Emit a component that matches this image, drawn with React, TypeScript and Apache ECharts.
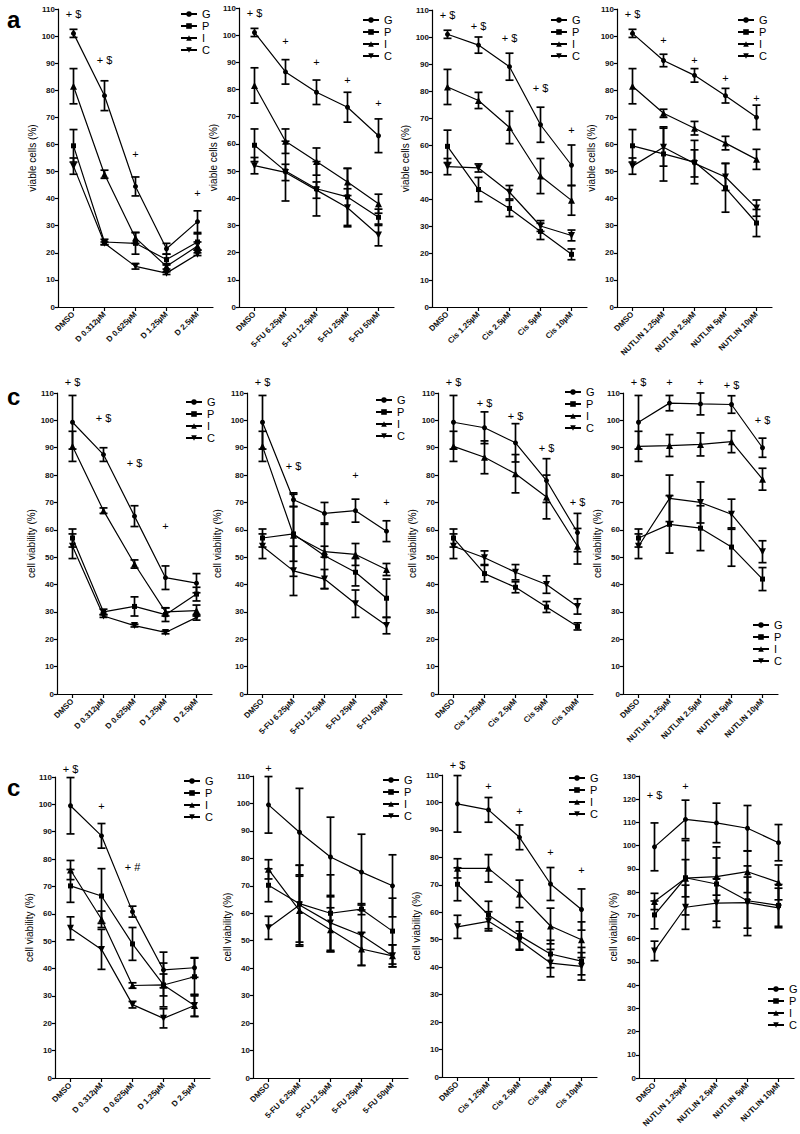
import React, { useEffect, useRef } from 'react';
import * as echarts from 'echarts';

const catD = ['DMSO', 'D 0.312µM', 'D 0.625µM', 'D 1.25µM', 'D 2.5µM'];
const catFU = ['DMSO', '5-FU 6.25µM', '5-FU 12.5µM', '5-FU 25µM', '5-FU 50µM'];
const catCis = ['DMSO', 'Cis 1.25µM', 'Cis 2.5µM', 'Cis 5µM', 'Cis 10µM'];
const catNut = ['DMSO', 'NUTLIN 1.25µM', 'NUTLIN 2.5µM', 'NUTLIN 5µM', 'NUTLIN 10µM'];
const groupNames = ['G', 'P', 'I', 'C'];

// ---- Row a (viable cells %) : order G, P, I, C ----
const a1Mean = [[101, 78, 44.5, 21.5, 31.5], [59.5, 24, 23.5, 17.5, 24], [81.5, 49, 25.5, 15, 22.5], [52, 23.5, 15, 12.5, 19.5]];
const a1Err = [[1.5, 5.5, 3.5, 2, 4], [6, 1, 4, 2, 3], [6.5, 1.5, 2, 1, 1.5], [3, 0.5, 1, 0.5, 0.5]];
const a1Notes: [string, number, number][] = [['+ $', 0, 108], ['+ $', 1, 91], ['+', 2, 56.5], ['+', 4, 42]];

const a2Mean = [[101, 86.5, 79, 73.5, 63], [59.5, 50, 43.5, 40.5, 33], [81.5, 61, 53.5, 46, 38], [52, 49.5, 43, 36.5, 26.5]];
const a2Err = [[1.5, 4.5, 4.5, 5.5, 6.2], [6, 11, 10, 10.5, 3], [6.5, 4.5, 5, 5, 3.5], [3, 3, 3, 7, 4]];
const a2Notes: [string, number, number][] = [['+ $', 0, 108], ['+', 1, 98], ['+', 2, 90], ['+', 3, 83.5], ['+', 4, 75]];

const a3Mean = [[101, 97, 89, 67.5, 52.5], [59.5, 43.5, 36.5, 28, 19.5], [81.5, 76.5, 66.5, 48.5, 39.5], [52, 51.5, 42.5, 30, 26.5]];
const a3Err = [[1.5, 3, 5, 6.5, 7.5], [6, 4.5, 3, 3, 2], [6.5, 3, 6, 6.5, 5.5], [3, 1.5, 2.5, 2, 2]];
const a3Notes: [string, number, number][] = [['+ $', 0, 108], ['+ $', 1, 104], ['+ $', 2, 99.5], ['+ $', 3, 81], ['+', 4, 65.5]];

const a4Mean = [[101, 91, 85.5, 78, 70], [59.5, 56.5, 53.5, 44, 31], [81.5, 71.5, 66, 60.5, 54.5], [52, 59, 53, 48, 36.5]];
const a4Err = [[1.5, 2.3, 2.5, 2.7, 4.5], [6, 10, 8, 9, 5], [6.5, 1.5, 2.5, 2.5, 3.7], [3, 7, 5, 5, 3]];
const a4Notes: [string, number, number][] = [['+ $', 0, 108], ['+', 1, 98.5], ['+', 2, 91], ['+', 3, 84.5], ['+', 4, 77]];

// ---- Row c (cell viability %) ----
const c1Mean = [[99.3, 87.5, 65, 42.5, 40.5], [57, 30, 32, 29, 36.5], [90.5, 67, 47.5, 30, 30.5], [54, 28.5, 25, 22.5, 28]];
const c1Err = [[9.8, 2.5, 3.8, 4.3, 3.5], [3.3, 1, 3.5, 2.5, 2.5], [5.5, 1, 1.5, 1.5, 2], [4.5, 0.5, 0.5, 0.5, 1]];
const c1Notes: [string, number, number][] = [['+ $', 0, 114], ['+ $', 1, 101], ['+ $', 2, 84.5], ['+', 3, 61.5]];

const c2Mean = [[99.3, 71, 66, 67, 59.5], [57, 58.5, 50.5, 44.5, 35], [90.5, 58, 52, 51, 45.5], [54, 45, 42, 33, 25]];
const c2Err = [[9.8, 2.5, 4, 4.2, 3.8], [3.3, 10, 12, 5, 7], [5.5, 15, 2, 4, 2.2], [4.5, 9, 3.5, 5, 3]];
const c2Notes: [string, number, number][] = [['+ $', 0, 114], ['+ $', 1, 83.5], ['+', 3, 80], ['+', 4, 70]];

const c3Mean = [[99.3, 97.3, 91.8, 78, 59], [57, 44, 39, 31.8, 24.7], [90.5, 86.5, 80.5, 72, 54], [54, 49.8, 44.5, 40, 32]];
const c3Err = [[9.8, 5.8, 7, 8, 7], [3.3, 3, 2, 2, 1.3], [5.5, 6, 7, 8, 6.5], [4.5, 2.5, 2.8, 3.2, 2.8]];
const c3Notes: [string, number, number][] = [['+ $', 0, 114], ['+ $', 1, 106.5], ['+ $', 2, 101.5], ['+ $', 3, 90], ['+ $', 4, 70]];

const c4Mean = [[99.3, 106.3, 106, 105.8, 90], [57, 62, 60.6, 53.7, 42], [90.5, 90.8, 91.2, 92.2, 78.5], [54, 71.5, 70, 65.7, 52]];
const c4Err = [[9.8, 2.8, 4, 3.2, 3.5], [3.3, 10.5, 8.2, 7, 4.2], [5.5, 4, 4.2, 4, 4], [4.5, 8.5, 7.5, 5.5, 4]];
const c4Notes: [string, number, number][] = [['+ $', 0, 114], ['+', 1, 114], ['+', 2, 114], ['+ $', 3, 113], ['+ $', 4, 100]];

// ---- Row c (second) ----
const e1Mean = [[99.5, 88.5, 60.8, 39.5, 40.3], [70.2, 66.5, 49, 34, 37], [76, 58, 33.8, 34, 26.5], [54.7, 47, 26.8, 21.8, 26.5]];
const e1Err = [[10.3, 4.5, 2, 6.5, 3.5], [6, 10, 6, 8, 7], [3.5, 3, 1, 4, 4], [4.2, 7.3, 1.2, 3.5, 4]];
const e1Notes: [string, number, number][] = [['+ $', 0, 113], ['+', 1, 99.5], ['+ #', 2, 77]];

const e2Mean = [[99.5, 89.5, 80.5, 75, 70], [70.2, 63.5, 60, 61.5, 53.5], [76, 61, 54, 47, 44.5], [54.7, 63, 56.5, 52, 44.5]];
const e2Err = [[10.3, 16, 14.5, 13.8, 11.3], [6, 14, 14, 2, 12], [3.5, 13, 8, 6, 4], [4.2, 14.5, 10, 11, 4]];
const e2Notes: [string, number, number][] = [['+', 0, 113]];

const e3Mean = [[99.5, 97.3, 87.3, 70.3, 61], [70.2, 59, 51.5, 44.8, 42.2], [76, 76, 66.7, 55, 50], [54.7, 56.7, 49.7, 41.5, 40.3]];
const e3Err = [[10.3, 4.5, 4.5, 6, 7.5], [6, 5, 5, 5, 5], [3.5, 5, 5, 6.5, 6.5], [4.2, 3.5, 3.5, 5, 5]];
const e3Notes: [string, number, number][] = [['+ $', 0, 113.5], ['+', 1, 106], ['+', 2, 97], ['+', 3, 82], ['+', 4, 75.5]];

const e4Mean = [[99.5, 111.3, 109.8, 107.5, 101.3], [70.2, 86.2, 83.5, 76.3, 74.3], [76, 86, 86.7, 88.8, 84.2], [54.7, 73.5, 75.3, 75.5, 73.2]];
const e4Err = [[10.3, 8.3, 8.5, 9.8, 7.8], [6, 16, 16, 15, 9], [3.5, 8, 8, 9, 7.5], [4.2, 9.5, 10.5, 11, 8.5]];
const e4Notes: [string, number, number][] = [['+ $', 0, 122], ['+', 1, 125.5]];

const panels = [
  { cats: catD, mean: a1Mean, err: a1Err, notes: a1Notes },
  { cats: catFU, mean: a2Mean, err: a2Err, notes: a2Notes },
  { cats: catCis, mean: a3Mean, err: a3Err, notes: a3Notes },
  { cats: catNut, mean: a4Mean, err: a4Err, notes: a4Notes },
  { cats: catD, mean: c1Mean, err: c1Err, notes: c1Notes },
  { cats: catFU, mean: c2Mean, err: c2Err, notes: c2Notes },
  { cats: catCis, mean: c3Mean, err: c3Err, notes: c3Notes },
  { cats: catNut, mean: c4Mean, err: c4Err, notes: c4Notes },
  { cats: catD, mean: e1Mean, err: e1Err, notes: e1Notes },
  { cats: catFU, mean: e2Mean, err: e2Err, notes: e2Notes },
  { cats: catCis, mean: e3Mean, err: e3Err, notes: e3Notes },
  { cats: catNut, mean: e4Mean, err: e4Err, notes: e4Notes },
];

// layout (pixels)
const layout = [
  { left: 58, top: 9, width: 155, height: 298, yMax: 110, yName: 'viable cells (%)', gap: 18, lgL: 180, lgT: 8 },
  { left: 239, top: 8, width: 155, height: 299, yMax: 110, yName: 'viable cells (%)', gap: 19, lgL: 362, lgT: 14 },
  { left: 432, top: 10, width: 155, height: 297, yMax: 110, yName: 'viable cells (%)', gap: 22, lgL: 550, lgT: 14 },
  { left: 617, top: 9, width: 155, height: 298, yMax: 110, yName: 'viable cells (%)', gap: 19, lgL: 737, lgT: 14 },
  { left: 57, top: 393, width: 155, height: 301, yMax: 110, yName: 'cell viability (%)', gap: 19, lgL: 185, lgT: 396 },
  { left: 247, top: 393, width: 155, height: 301, yMax: 110, yName: 'cell viability (%)', gap: 25, lgL: 375, lgT: 394 },
  { left: 438, top: 393, width: 155, height: 301, yMax: 110, yName: 'cell viability (%)', gap: 20, lgL: 564, lgT: 386 },
  { left: 623, top: 393, width: 155, height: 301, yMax: 110, yName: 'cell viability (%)', gap: 18, lgL: 752, lgT: 619 },
  { left: 55, top: 777, width: 155, height: 301, yMax: 110, yName: 'cell viability (%)', gap: 17, lgL: 183, lgT: 775 },
  { left: 253, top: 776, width: 155, height: 302, yMax: 110, yName: 'cell viability (%)', gap: 16, lgL: 382, lgT: 774 },
  { left: 442, top: 775, width: 155, height: 302, yMax: 110, yName: 'cell viability (%)', gap: 17, lgL: 568, lgT: 772 },
  { left: 639, top: 776, width: 155, height: 302, yMax: 130, yName: 'cell viability (%)', gap: 21, lgL: 767, lgT: 983 },
];

const FONT = '"Liberation Sans", Arial, sans-serif';
const symbols = ['circle', 'rect', 'triangle', 'path://M0,0L10,0L5,10Z'];
const symbolSizes = [5, 5, 7, 7];

export default function App() {
  const ref = useRef<HTMLDivElement>(null);
  useEffect(() => {
    if (!ref.current) return;
    const chart = echarts.init(ref.current, null, { renderer: 'svg' });
    const axisLine = { show: true, lineStyle: { color: '#000', width: 1.2 } };
    const grid = layout.map((l) => ({ left: l.left, top: l.top, width: l.width, height: l.height }));
    const xAxis = panels.map((p, i) => ({
      gridIndex: i,
      type: 'category',
      data: p.cats,
      boundaryGap: true,
      axisLine,
      axisTick: { show: true, alignWithLabel: true, length: 4, lineStyle: { color: '#000', width: 1.2 } },
      axisLabel: { rotate: 45, interval: 0, fontSize: 8, fontWeight: 'bold', color: '#111', fontFamily: FONT, margin: 6 },
      splitLine: { show: false },
    }));
    const yAxis = layout.map((l, i) => ({
      gridIndex: i,
      type: 'value',
      min: 0,
      max: l.yMax,
      interval: 10,
      name: l.yName,
      nameLocation: 'middle',
      nameGap: l.gap,
      nameTextStyle: { fontSize: 10, color: '#000', fontFamily: FONT },
      axisLine,
      axisTick: { show: true, length: 3, lineStyle: { color: '#000', width: 1.2 } },
      axisLabel: { fontSize: 8, fontWeight: 'bold', color: '#111', fontFamily: FONT, margin: 3 },
      splitLine: { show: false },
    }));
    const series: any[] = [];
    panels.forEach((p, i) => {
      groupNames.forEach((g, k) => {
        series.push({
          type: 'line',
          name: g,
          xAxisIndex: i,
          yAxisIndex: i,
          data: p.mean[k],
          symbol: symbols[k],
          symbolSize: symbolSizes[k],
          showAllSymbol: true,
          lineStyle: { color: '#000', width: 1.2 },
          itemStyle: { color: '#000' },
          z: 3,
        });
      });
      const errData: number[][] = [];
      p.mean.forEach((arr, k) => {
        arr.forEach((v, j) => {
          errData.push([j, v - p.err[k][j], v + p.err[k][j]]);
        });
      });
      series.push({
        type: 'custom',
        xAxisIndex: i,
        yAxisIndex: i,
        data: errData,
        encode: { x: 0, y: [1, 2] },
        itemStyle: { color: '#000' },
        z: 4,
        renderItem: (params: any, api: any) => {
          const x = api.value(0);
          const pLo = api.coord([x, api.value(1)]);
          const pHi = api.coord([x, api.value(2)]);
          const cap = 4;
          const style = { stroke: '#000', lineWidth: 1.7 };
          return {
            type: 'group',
            children: [
              { type: 'line', shape: { x1: pLo[0], y1: pLo[1], x2: pHi[0], y2: pHi[1] }, style },
              { type: 'line', shape: { x1: pLo[0] - cap, y1: pLo[1], x2: pLo[0] + cap, y2: pLo[1] }, style },
              { type: 'line', shape: { x1: pHi[0] - cap, y1: pHi[1], x2: pHi[0] + cap, y2: pHi[1] }, style },
            ],
          };
        },
      });
      const notes = p.notes;
      series.push({
        type: 'custom',
        xAxisIndex: i,
        yAxisIndex: i,
        data: notes.map((n) => [n[1], n[2]]),
        encode: { x: 0, y: 1 },
        itemStyle: { color: '#000' },
        z: 5,
        renderItem: (params: any, api: any) => {
          const pt = api.coord([api.value(0), api.value(1)]);
          return {
            type: 'text',
            x: pt[0],
            y: pt[1],
            style: {
              text: notes[params.dataIndex][0],
              align: 'center',
              verticalAlign: 'middle',
              fontSize: 11,
              fontFamily: FONT,
              fill: '#000',
              stroke: null,
              lineWidth: 0,
            },
          };
        },
      });
    });
    const legend = layout.map((l) => ({
      data: groupNames,
      orient: 'vertical',
      left: l.lgL,
      top: l.lgT,
      itemWidth: 16,
      itemHeight: 7,
      itemGap: 0,
      selectedMode: false,
      textStyle: { fontSize: 11, color: '#000', fontFamily: FONT, lineHeight: 12, padding: [0, 0, 0, 0] },
      padding: 0,
    }));
    const option: any = {
      animation: false,
      backgroundColor: '#fff',
      color: ['#000'],
      grid,
      xAxis,
      yAxis,
      series,
      legend,
      graphic: [
        { type: 'text', x: 7, y: 19, style: { text: 'a', fontSize: 24, fontWeight: 'bold', fontFamily: FONT, fill: '#000', verticalAlign: 'middle' } },
        { type: 'text', x: 7, y: 396, style: { text: 'c', fontSize: 24, fontWeight: 'bold', fontFamily: FONT, fill: '#000', verticalAlign: 'middle' } },
        { type: 'text', x: 7, y: 787, style: { text: 'c', fontSize: 24, fontWeight: 'bold', fontFamily: FONT, fill: '#000', verticalAlign: 'middle' } },
      ],
    };
    chart.setOption(option);
    return () => chart.dispose();
  }, []);
  return <div ref={ref} style={{ position: 'absolute', left: 0, top: 0, width: 800, height: 1134 }} />;
}
